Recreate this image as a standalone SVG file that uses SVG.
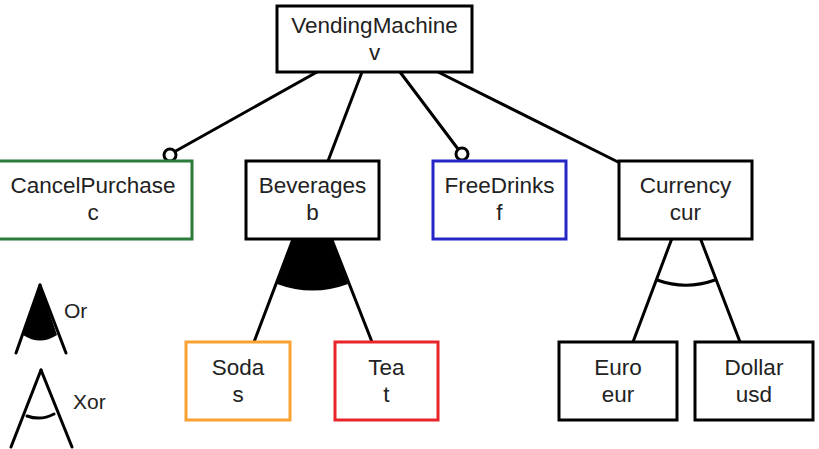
<svg xmlns="http://www.w3.org/2000/svg" width="819" height="449" viewBox="0 0 819 449">
<style>
.box{fill:#fff;stroke:#000;stroke-width:3}
.t{font-family:"Liberation Sans",Arial,sans-serif;font-size:22.5px;fill:#222;text-anchor:middle}
.lt{font-family:"Liberation Sans",Arial,sans-serif;font-size:21px;fill:#222}
.ln{stroke:#000;stroke-width:3;fill:none;stroke-linecap:round}
.opt{fill:#fff;stroke:#000;stroke-width:3}
</style>
<rect width="819" height="449" fill="#fff"/>
<g id="connectors">
  <line class="ln" x1="317" y1="72" x2="174" y2="152"/>
  <line class="ln" x1="362" y1="72" x2="328" y2="161"/>
  <line class="ln" x1="400" y1="72" x2="458" y2="149"/>
  <line class="ln" x1="438" y1="72" x2="620" y2="163"/>
  <circle class="opt" cx="170" cy="155" r="6"/>
  <circle class="opt" cx="462" cy="154" r="6"/>
  <path d="M312,189 L277,284 A102,102 0 0 0 348,284 Z" fill="#000"/>
  <line class="ln" x1="312" y1="189" x2="254" y2="342"/>
  <line class="ln" x1="312" y1="189" x2="372" y2="342"/>
  <line class="ln" x1="686" y1="201" x2="633" y2="342"/>
  <line class="ln" x1="686" y1="201" x2="740" y2="342"/>
  <path class="ln" d="M657,280 A86,86 0 0 0 715,280"/>
</g>
<g id="node-v"><rect class="box" x="277" y="6" width="195" height="66"/><text class="t" x="374.5" y="33">VendingMachine</text><text class="t" x="374.5" y="60">v</text></g>
<g id="node-c"><rect class="box" x="-6" y="161" width="198" height="78" style="stroke:#2a7a38"/><text class="t" x="93" y="193">CancelPurchase</text><text class="t" x="93" y="220">c</text></g>
<g id="node-b"><rect class="box" x="246" y="161" width="133" height="78"/><text class="t" x="312.5" y="193">Beverages</text><text class="t" x="312.5" y="220">b</text></g>
<g id="node-f"><rect class="box" x="433" y="161" width="133" height="78" style="stroke:#2727c8"/><text class="t" x="499.5" y="193">FreeDrinks</text><text class="t" x="499.5" y="220">f</text></g>
<g id="node-cur"><rect class="box" x="619" y="161" width="133" height="78"/><text class="t" x="685.5" y="193">Currency</text><text class="t" x="685.5" y="220">cur</text></g>
<g id="node-s"><rect class="box" x="186" y="342" width="104" height="78" style="stroke:#f7a233"/><text class="t" x="238" y="375">Soda</text><text class="t" x="238" y="402">s</text></g>
<g id="node-t"><rect class="box" x="335" y="342" width="103" height="78" style="stroke:#e8252b"/><text class="t" x="386.5" y="375">Tea</text><text class="t" x="386.5" y="402">t</text></g>
<g id="node-eur"><rect class="box" x="559" y="342" width="118" height="78"/><text class="t" x="618" y="375">Euro</text><text class="t" x="618" y="402">eur</text></g>
<g id="node-usd"><rect class="box" x="695" y="342" width="118" height="78"/><text class="t" x="754" y="375">Dollar</text><text class="t" x="754" y="402">usd</text></g>
<g id="legend">
  <path d="M40,285 L23,335 Q40,346 57,335 Z" fill="#000"/>
  <line class="ln" x1="40" y1="285" x2="16" y2="353"/>
  <line class="ln" x1="40" y1="285" x2="66" y2="353"/>
  <text class="lt" x="64" y="318">Or</text>
  <line class="ln" x1="41" y1="370" x2="11" y2="447"/>
  <line class="ln" x1="41" y1="370" x2="72" y2="447"/>
  <path class="ln" d="M27,416 Q41,421 54,414"/>
  <text class="lt" x="73" y="409">Xor</text>
</g>
</svg>
